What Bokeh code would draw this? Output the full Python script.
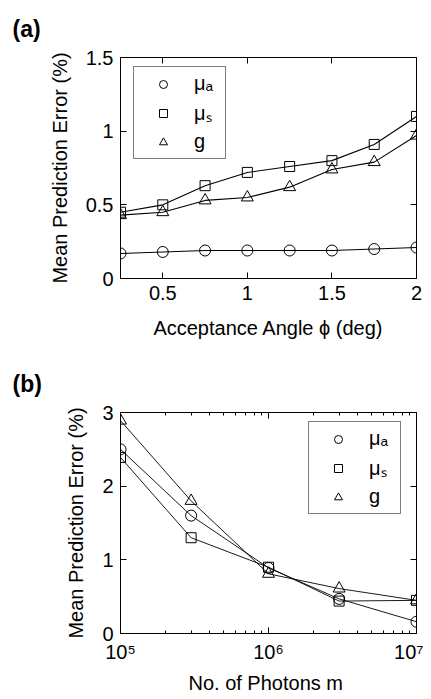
from bokeh.plotting import figure
from bokeh.layouts import column
from bokeh.models import (LinearAxis, LogAxis, FixedTicker, NumeralTickFormatter,
                          Legend, LegendItem, Range1d, CustomJSTickFormatter)
from bokeh.embed import file_html
from bokeh.resources import INLINE

# ---------------- data: panel (a) ----------------
angle_deg = [0.25, 0.5, 0.75, 1.0, 1.25, 1.5, 1.75, 2.0]
err_mua_a = [0.17, 0.18, 0.19, 0.19, 0.19, 0.19, 0.20, 0.21]
err_mus_a = [0.45, 0.50, 0.63, 0.72, 0.76, 0.80, 0.91, 1.10]
err_g_a = [0.43, 0.45, 0.53, 0.55, 0.62, 0.74, 0.79, 0.97]
x_ticks_a = [0.5, 1.0, 1.5, 2.0]
y_ticks_a = [0, 0.5, 1.0, 1.5]

# ---------------- data: panel (b) ----------------
photons = [1e5, 3e5, 1e6, 3e6, 1e7]
err_mua_b = [2.50, 1.60, 0.89, 0.47, 0.16]
err_mus_b = [2.39, 1.30, 0.90, 0.44, 0.45]
err_g_b = [2.89, 1.80, 0.81, 0.61, 0.45]
x_ticks_b = [1e5, 1e6, 1e7]
x_tick_labels_b = ["10\u2075", "10\u2076", "10\u2077"]
x_minor_b = [k * 10.0 ** e for e in (5, 6) for k in range(2, 10)]
y_ticks_b = [0, 1, 2, 3]

legend_labels = ["\u03bc\u2090", "\u03bc\u209b", "g"]
markers = ["circle", "square", "triangle"]
marker_sizes = [11, 10, 12]

FONT = "Liberation Sans"


def style_axis(ax, show_labels, label_standoff=12):
    ax.axis_line_color = "black"
    ax.axis_line_width = 1
    ax.major_tick_line_color = "black"
    ax.minor_tick_line_color = "black"
    ax.major_tick_in = 6
    ax.major_tick_out = 0
    ax.minor_tick_in = 3
    ax.minor_tick_out = 0
    ax.major_label_text_font = FONT
    ax.major_label_text_color = "black"
    ax.major_label_text_font_size = "20px"
    ax.axis_label_text_font = FONT
    ax.axis_label_text_font_style = "normal"
    ax.axis_label_text_font_size = "20px"
    ax.axis_label_text_color = "black"
    if show_labels:
        ax.major_label_standoff = 7
        ax.axis_label_standoff = label_standoff
    else:
        ax.formatter = CustomJSTickFormatter(code="return '';")
        ax.major_label_standoff = 0


def make_fig(tag, height, top, bottom, x_range, y_range, x_type):
    p = figure(width=423, height=height, x_range=x_range, y_range=y_range,
               x_axis_type=x_type, title=tag,
               output_backend="svg", toolbar_location=None,
               min_border_left=120, min_border_right=7,
               min_border_top=top, min_border_bottom=bottom)
    p.title.text_font = FONT
    p.title.text_font_style = "bold"
    p.title.text_font_size = "23px"
    p.title.text_color = "black"
    p.title.align = "left"
    p.title.vertical_align = "top"
    p.title.offset = -108
    p.title.standoff = 28
    p.xgrid.visible = False
    p.ygrid.visible = False
    p.outline_line_color = "black"
    p.background_fill_color = "white"
    p.border_fill_color = "white"
    return p


def add_series(p, xs, ys_list, lw):
    items = []
    for ys, mk, sz, lab in zip(ys_list, markers, marker_sizes, legend_labels):
        p.line(xs, ys, line_color="black", line_width=lw)
        r = p.scatter(xs, ys, marker=mk, size=sz, line_color="black",
                      line_width=1, fill_color=None)
        items.append(LegendItem(label=lab, renderers=[r]))
    return items


def add_legend(p, items, loc):
    lg = Legend(items=items, location=loc, border_line_color="black",
                border_line_width=1.2, background_fill_color="white",
                background_fill_alpha=1, padding=5, spacing=4, margin=0,
                glyph_width=48, glyph_height=20, label_height=20,
                label_width=26, label_standoff=7, label_text_font=FONT,
                label_text_font_size="20px", label_text_color="black")
    p.add_layout(lg)


# ---------------- panel (a) ----------------
p1 = make_fig("(a)", 353, 57, 75, Range1d(0.25, 2.0), Range1d(0, 1.5), "linear")
top_a = LinearAxis(ticker=FixedTicker(ticks=x_ticks_a))
right_a = LinearAxis(ticker=FixedTicker(ticks=y_ticks_a))
p1.add_layout(top_a, "above")
p1.add_layout(right_a, "right")
items_a = add_series(p1, angle_deg, [err_mua_a, err_mus_a, err_g_a], 1.1)
add_legend(p1, items_a, (13, 119))
bx, ly = p1.below[0], p1.left[0]
style_axis(bx, True, 14)
style_axis(ly, True, 12)
style_axis(top_a, False)
style_axis(right_a, False)
bx.ticker = FixedTicker(ticks=x_ticks_a)
ly.ticker = FixedTicker(ticks=y_ticks_a)
bx.formatter = NumeralTickFormatter(format="0.[0]")
ly.formatter = NumeralTickFormatter(format="0.[0]")
bx.axis_label = "Acceptance Angle \u03d5 (deg)"
ly.axis_label = "Mean Prediction Error (%)"

# ---------------- panel (b) ----------------
p2 = make_fig("(b)", 346, 59, 66, Range1d(1e5, 1e7), Range1d(0, 3), "log")
top_b = LogAxis(ticker=FixedTicker(ticks=x_ticks_b, minor_ticks=x_minor_b))
right_b = LinearAxis(ticker=FixedTicker(ticks=y_ticks_b))
p2.add_layout(top_b, "above")
p2.add_layout(right_b, "right")
items_b = add_series(p2, photons, [err_mua_b, err_mus_b, err_g_b], 0.9)
add_legend(p2, items_b, (188, 119))
bx2, ly2 = p2.below[0], p2.left[0]
style_axis(bx2, True, 6)
style_axis(ly2, True, 12)
style_axis(top_b, False)
style_axis(right_b, False)
bx2.ticker = FixedTicker(ticks=x_ticks_b, minor_ticks=x_minor_b)
ly2.ticker = FixedTicker(ticks=y_ticks_b)
bx2.formatter = CustomJSTickFormatter(
    args=dict(tick_vals=x_ticks_b, tick_texts=x_tick_labels_b),
    code="""
    for (let i = 0; i < tick_vals.length; i++) {
        if (Math.abs(Math.log10(tick_vals[i]) - Math.log10(tick)) < 1e-6) return tick_texts[i];
    }
    return '';
    """)
bx2.axis_label = "No. of Photons  m"
ly2.axis_label = "Mean Prediction Error (%)"

layout = column(p1, p2, spacing=0)
open("out.html", "w").write(file_html(layout, INLINE))
